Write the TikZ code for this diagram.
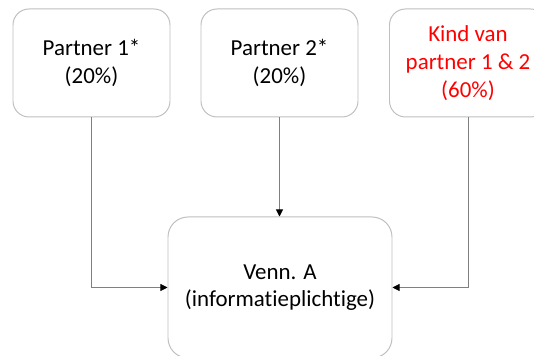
\documentclass[tikz,border=0pt]{standalone}
\usepackage{fontspec}
\setmainfont{Carlito}[Ligatures=CommonOff]
\usetikzlibrary{arrows.meta,positioning}
\definecolor{box-border}{HTML}{BFBFBF}
\definecolor{link-gray}{HTML}{808080}
\definecolor{kind-red}{HTML}{FF0000}

\begin{document}
\begin{tikzpicture}[
    box/.style={draw=box-border, line width=0.7pt, rounded corners=0.4cm, fill=white, align=center, minimum width=3.925cm, minimum height=2.7cm, font=\fontsize{16.3}{19.7}\selectfont},
    link/.style={draw=link-gray, line width=0.6pt, -{Triangle[length=5pt, width=5pt, color=black]}}
]

    \useasboundingbox (0, 0) rectangle (13.35, 8.9);

    \node[box] (p1) at (2.2875, 7.325) {Partner 1*\\(20\%)};
    \node[box] (p2) at (6.9875, 7.325) {Partner 2*\\(20\%)};
    \node[box, text=kind-red] (kind) at (11.7, 7.325) {Kind van\\partner 1 \& 2\\(60\%)};

    \node[box, minimum width=5.6cm, minimum height=3.525cm, rounded corners=0.5cm] (venn) at (7.0, 1.7125) {Venn. A\\(informatieplichtige)};

    \draw[link] (p1.south) |- (venn.west);
    \draw[link] (p2.south) -- (p2.south |- venn.north);
    \draw[link] (kind.south) |- (venn.east);
\end{tikzpicture}
\end{document}
